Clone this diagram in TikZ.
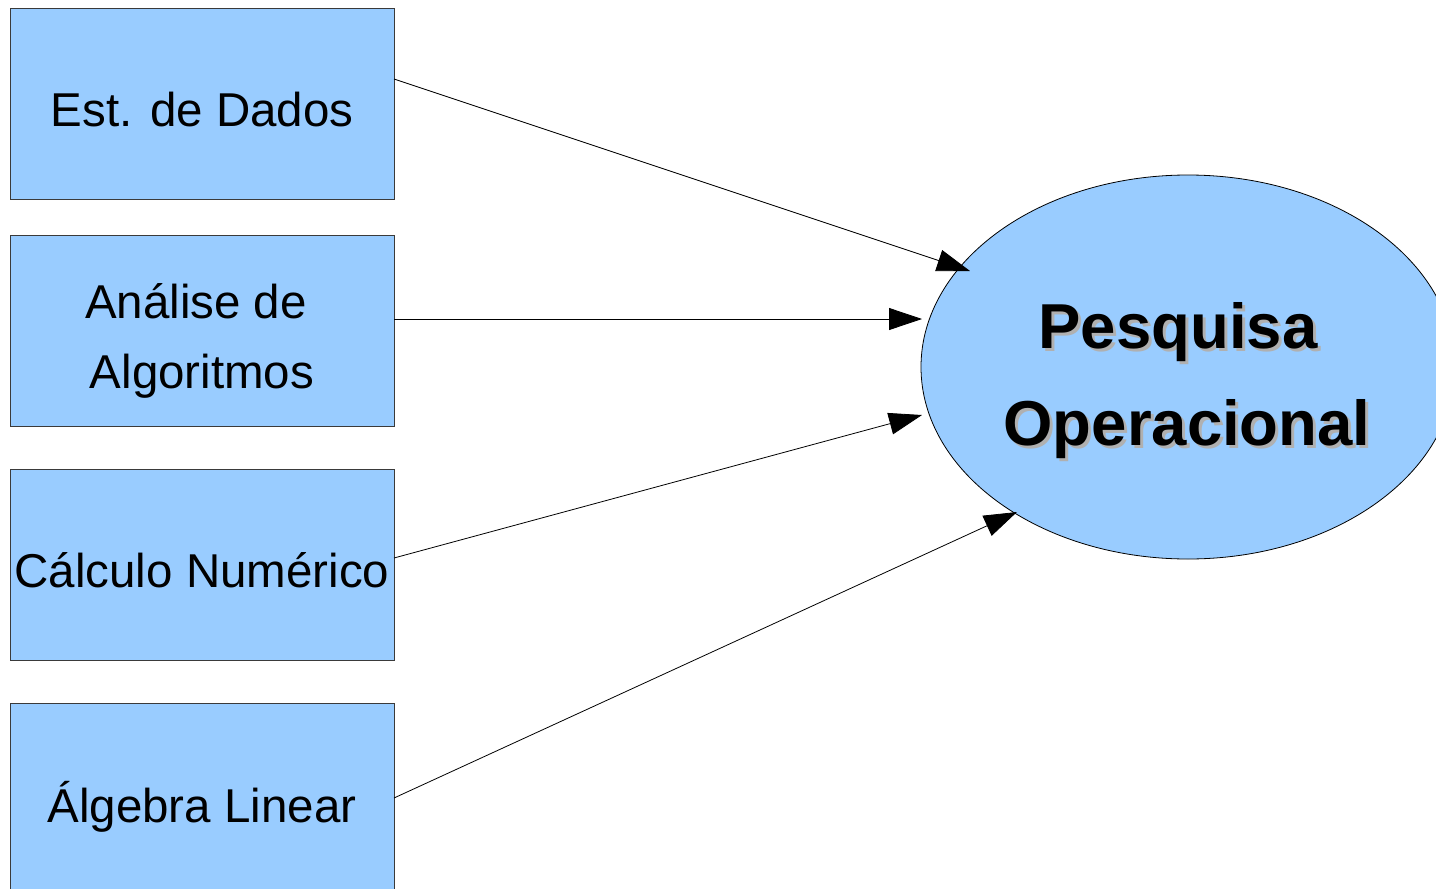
\documentclass[tikz,border=0pt]{standalone}
\usepackage{fontspec}
\setmainfont{Liberation Sans}
\usetikzlibrary{arrows.meta,shapes.geometric}
\definecolor{boxfill}{HTML}{99CCFF}
\definecolor{boxline}{HTML}{3A3A3A}
\definecolor{shadowgray}{HTML}{B0B0B0}
\newcommand{\shadowed}[1]{\makebox[0pt][l]{\hspace{3pt}\raisebox{-3pt}{\textcolor{shadowgray}{#1}}}#1}
\tikzset{
  subj/.style={draw=boxline, fill=boxfill, line width=1pt, minimum width=384pt, minimum height=191pt, inner sep=0pt, outer sep=0pt},
  boxtext/.style={anchor=base, inner sep=0pt, font=\fontsize{47.5}{56}\selectfont},
  bigtext/.style={anchor=base, inner sep=0pt, font=\fontsize{63.5}{75}\selectfont\bfseries},
  conn/.style={draw=black, line width=0.8pt, -{Triangle[length=33pt,width=22pt]}},
}
\begin{document}
\begin{tikzpicture}[x=1pt,y=-1pt]
\useasboundingbox (0,0) rectangle (1436,889);
\clip (0,0) rectangle (1436,889);
% boxes
\node[subj] (a) at (202,103.5) {};
\node[subj] (b) at (202,330.5) {};
\node[subj] (c) at (202,564.5) {};
\node[subj] (d) at (202,798.5) {};
% ellipse
\node[ellipse, draw=black, fill=boxfill, line width=0.8pt, minimum width=534pt, minimum height=384pt, inner sep=0pt] (po) at (1188,367) {};
% box texts
\node[boxtext] (ta) at (202,126) {Est. de Dados};
\node[boxtext] (tb1) at (196,318) {Análise de};
\node[boxtext] (tb2) at (202,388) {Algoritmos};
\node[boxtext] (tc) at (202,587) {Cálculo Numérico};
\node[boxtext] (td) at (202,822) {Álgebra Linear};
% ellipse text with shadow
\node[bigtext] (p1) at (1178,348) {\shadowed{Pesquisa}};
\node[bigtext] (p2) at (1187,445) {\shadowed{Operacional}};
% arrow end points
\coordinate (e1) at (970,271);
\coordinate (e2) at (922,319);
\coordinate (e3) at (922,415);
\coordinate (e4) at (1017,512);
\draw[conn] ([yshift=24.5pt]a.east) -- (e1);
\draw[conn] ([yshift=11.5pt]b.east) -- (e2);
\draw[conn] ([yshift=6.5pt]c.east) -- (e3);
\draw[conn] ([yshift=0.5pt]d.east) -- (e4);
\end{tikzpicture}
\end{document}
